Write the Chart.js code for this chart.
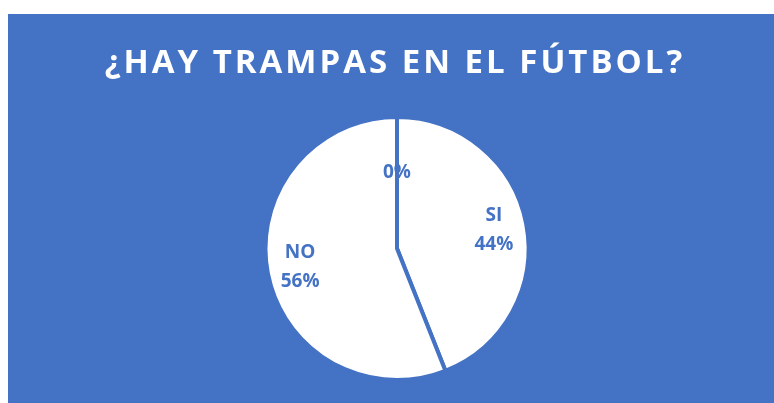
<!DOCTYPE html>
<html>
<head>
<meta charset="utf-8">
<script src="https://cdn.jsdelivr.net/npm/chart.js@4"></script>
<style>
  body { margin: 0; background: #fff; }
  #box { position: absolute; left: 8px; top: 14px; width: 766px; height: 389px; background: #4472C4; }
  canvas { display: block; }
</style>
</head>
<body>
<div id="box"><canvas id="my-chart" width="766" height="389"></canvas></div>
<script>
/* Pie chart: ¿Hay trampas en el fútbol? */
const titleText = '¿HAY TRAMPAS EN EL FÚTBOL?'
const categories = ['SI', 'NO', '']
const percents = [44, 56, 0]
const blue = '#4472C4'

// draws the title with letter spacing (Excel look)
const titlePlugin = {
  id: 'spacedTitle',
  beforeDraw(chart) {
    const ctx = chart.ctx
    ctx.save()
    ctx.font = 'bold 33px "Open Sans"'
    ctx.fillStyle = '#ffffff'
    ctx.textAlign = 'center'
    ctx.textBaseline = 'alphabetic'
    ctx.letterSpacing = '3px'
    ctx.fillText(titleText, 387, 59)
    ctx.restore()
  }
}

// category + percent labels inside the slices
const labelPlugin = {
  id: 'sliceLabels',
  afterDatasetsDraw(chart) {
    const ctx = chart.ctx
    const meta = chart.getDatasetMeta(0)
    ctx.save()
    ctx.font = 'bold 19px "Open Sans"'
    ctx.fillStyle = blue
    ctx.textAlign = 'center'
    ctx.textBaseline = 'middle'
    meta.data.forEach((arc, i) => {
      const mid = (arc.startAngle + arc.endAngle) / 2
      const r = arc.outerRadius * (percents[i] === 0 ? 0.58 : 0.75)
      const x = arc.x + Math.cos(mid) * r
      const y = arc.y + Math.sin(mid) * r
      const pct = percents[i] + '%'
      if (categories[i]) {
        ctx.fillText(categories[i], x, y - 14)
        ctx.fillText(pct, x, y + 15)
      } else {
        ctx.fillText(pct, x, y)
      }
    })
    ctx.restore()
  }
}

const ctx = document.getElementById('my-chart').getContext('2d')
const chart = new Chart(ctx, {
  type: 'pie',
  data: {
    labels: categories,
    datasets: [
      {
        data: percents,
        backgroundColor: '#ffffff',
        borderColor: blue,
        borderWidth: 4
      }
    ]
  },
  options: {
    responsive: false,
    animation: false,
    layout: { padding: { left: 12, right: 0, top: 101, bottom: 21 } },
    plugins: {
      legend: { display: false },
      tooltip: { enabled: false },
      title: { display: false }
    }
  },
  plugins: [titlePlugin, labelPlugin]
})
</script>
</body>
</html>
